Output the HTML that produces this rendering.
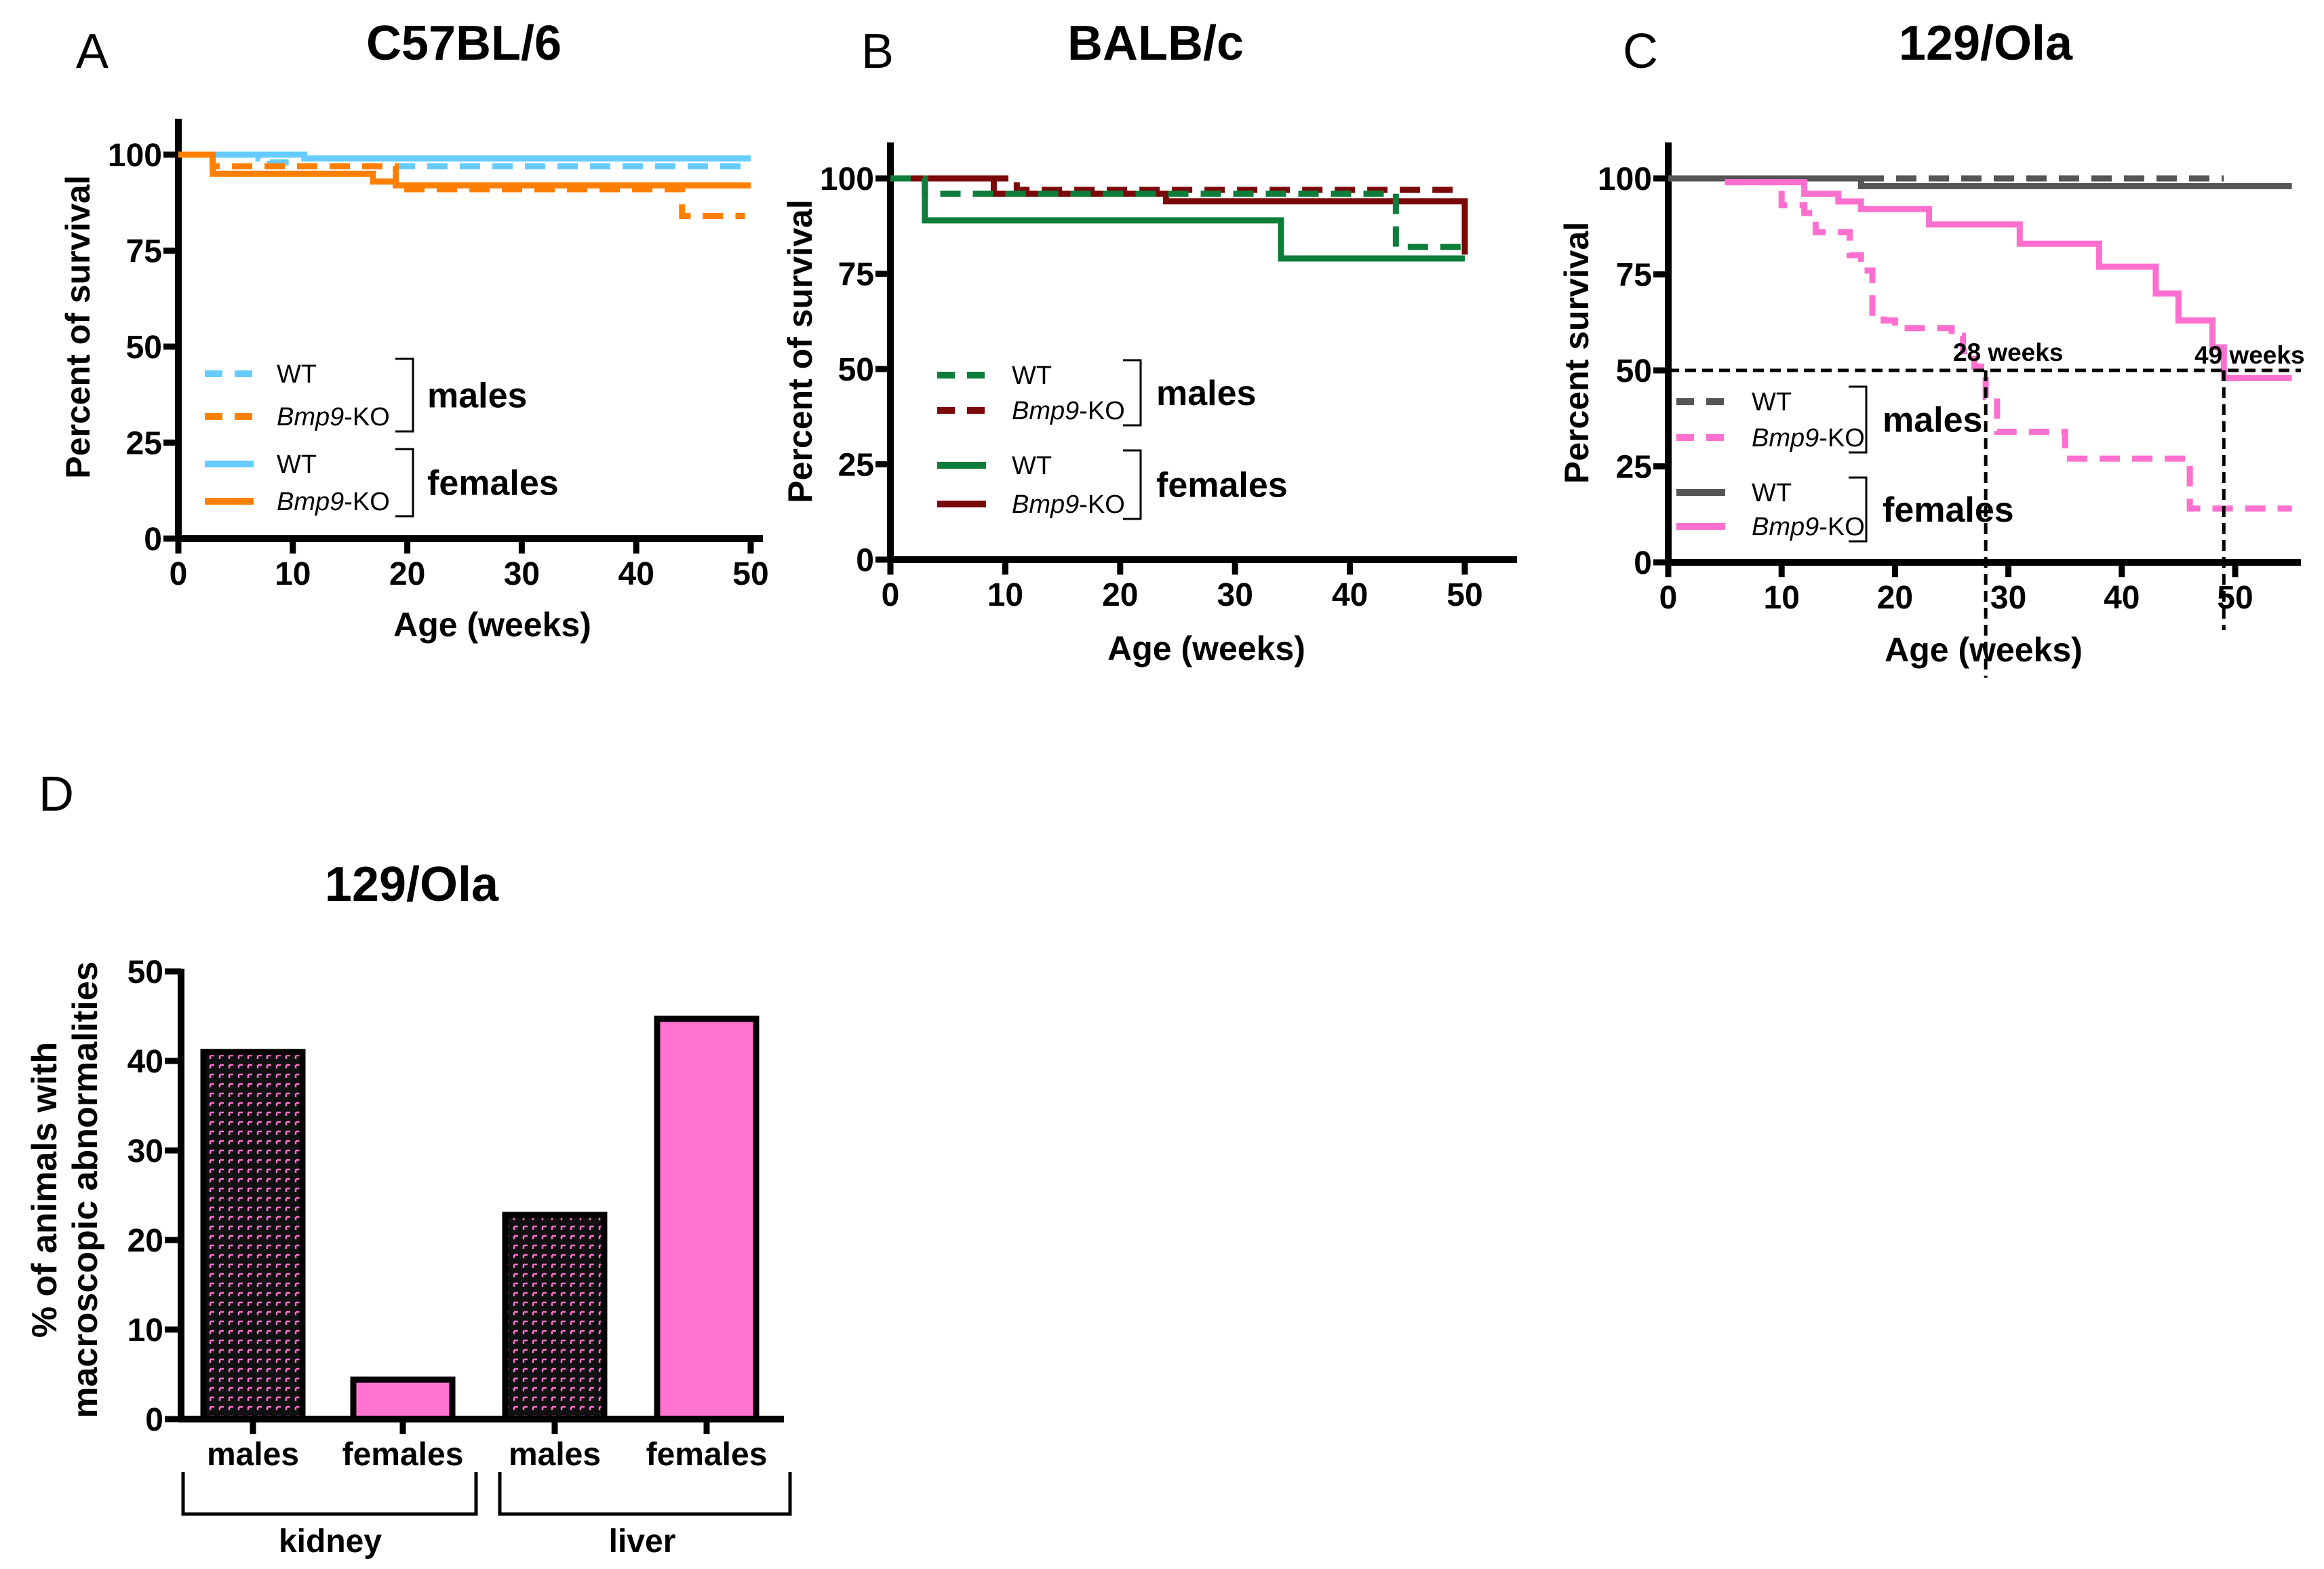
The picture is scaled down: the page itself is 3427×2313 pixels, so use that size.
<!DOCTYPE html>
<html><head><meta charset="utf-8">
<style>
html,body{margin:0;padding:0;background:#fff;}
svg{display:block;}
text{font-family:"Liberation Sans",sans-serif;}
</style></head>
<body>
<svg id="fig" width="3427" height="2313" viewBox="0 0 3427 2313" xmlns="http://www.w3.org/2000/svg">
<defs>
<pattern id="hatch" width="14" height="14" patternUnits="userSpaceOnUse">
<rect width="14" height="14" fill="#111"/>
<path d="M2 2 H8 M2 2 V7" stroke="#ff6fcf" stroke-width="2.5" fill="none"/>
</pattern>
</defs>
</svg>
<script>
// ---------- Panel A data (C57BL/6) ----------
const aWTmT=[0,7,8,10,50], aWTmS=[100,99,98,97,97];
const aWTfT=[0,11,50], aWTfS=[100,99,99];
const aKOmT=[0,3,19,44,49.5], aKOmS=[100,97,91,84,84];
const aKOfT=[0,3,17,19,50], aKOfS=[100,95,93,92,92];
// ---------- Panel B data (BALB/c) ----------
const bWTmT=[0,3,44,50], bWTmS=[100,96,82,82];
const bKOmT=[0,11,50], bKOmS=[100,97,97];
const bWTfT=[0,3,34,50], bWTfS=[100,89,79,79];
const bKOfT=[0,9,24,50,50], bKOfS=[100,96,94,94,80];
// ---------- Panel C data (129/Ola) ----------
const cWTmT=[0,49], cWTmS=[100,100];
const cWTfT=[0,17,55], cWTfS=[100,98,98];
const cKOmT=[5,10,12,13,16,17,18,19,20,25,26,27,28,29,35,46,55];
const cKOmS=[99,93,91,86,80,76,65,63,61,59,55,51,43,34,27,14,14];
const cKOfT=[5,12,15,17,23,31,38,43,45,48,49,55];
const cKOfS=[99,96,94,92,88,83,77,70,63,56,48,48];
const medianWeeks=[28,49];
// ---------- Panel D data ----------
const dCats=["males","females","males","females"];
const dVals=[41,4.4,22.8,44.7];
const dTicks=[0,10,20,30,40,50];
const survTicksY=[0,25,50,75,100];
const xTicksAB=[0,10,20,30,40,50];

const svg=document.getElementById('fig');
const NS="http://www.w3.org/2000/svg";
function el(tag,attrs,parent){const e=document.createElementNS(NS,tag);for(const k in attrs)e.setAttribute(k,attrs[k]);(parent||svg).appendChild(e);return e;}
function txt(s,attrs,parent){const t=el('text',attrs,parent);t.textContent=s;return t;}

function axes(p){
  const g=el('g',{});
  
  
  el('line',{x1:p.x0,y1:p.top,x2:p.x0,y2:p.y(0)+4,stroke:'#000','stroke-width':10},g);
  el('line',{x1:p.x0-4,y1:p.y(0),x2:p.xend,y2:p.y(0),stroke:'#000','stroke-width':10},g);
  p.yt.forEach(v=>{el('line',{x1:p.x0-22,y1:p.y(v),x2:p.x0,y2:p.y(v),stroke:'#000','stroke-width':9},g);
    const t=txt(String(v),{x:p.x0-24,y:p.y(v)+17,'font-size':48,'font-weight':'bold','text-anchor':'end'},g);
    });
  p.xt.forEach(v=>{el('line',{x1:p.x(v),y1:p.y(0),x2:p.x(v),y2:p.y(0)+22,stroke:'#000','stroke-width':9},g);
    const t=txt(String(v),{x:p.x(v),y:p.y(0)+68,'font-size':48,'font-weight':'bold','text-anchor':'middle'},g);
    });
  const yl=txt(p.ylab,{x:0,y:0,'font-size':p.yfs||50,'font-weight':'bold','text-anchor':'middle',transform:`translate(${p.ylx},${p.yly}) rotate(-90)`},g);
  
  const xl=txt('Age (weeks)',{x:p.xlx,y:p.xly,'font-size':50,'font-weight':'bold','text-anchor':'middle'},g);
  
}
function step(p,T,S,color,dashed,name){
  let d=`M${p.x(T[0])},${p.y(S[0])}`;
  for(let i=1;i<T.length;i++){d+=` H${p.x(T[i])} V${p.y(S[i])}`;}
  const path=el('path',{d:d,fill:'none',stroke:color,'stroke-width':9,'stroke-dasharray':dashed?'30 18':'none'});
  
  
}
function legend(p,items,ys,lx,tx,bx,gx){
  const g=el('g',{});
  
  
  items.forEach((it,i)=>{
    el('line',{x1:lx,y1:ys[i],x2:lx+72,y2:ys[i],stroke:it.c,'stroke-width':10,'stroke-dasharray':it.d?'26 18':'none'},g);
    if(i%2==0) txt('WT',{x:tx,y:ys[i]+13,'font-size':38},g);
    else{const t=el('text',{x:tx,y:ys[i]+13,'font-size':38},g);
      const a=el('tspan',{'font-style':'italic'},t);a.textContent='Bmp9';
      const b=el('tspan',{},t);b.textContent='-KO';}
  });
  [[0,1,'males'],[2,3,'females']].forEach(([a,b,lab])=>{
    const y1=ys[a]-22,y2=ys[b]+22;
    el('path',{d:`M${bx},${y1} H${bx+26} V${y2} H${bx}`,fill:'none',stroke:'#000','stroke-width':3},g);
    txt(lab,{x:gx,y:(y1+y2)/2+18,'font-size':52,'font-weight':'bold'},g);
  });
}
function mk(name,x0,x50,y0,y100,top,xend){
  return {name,x0,top,xend,x:v=>x0+(x50-x0)*v/50,y:v=>y0-(y0-y100)*v/100,yt:survTicksY,xt:xTicksAB};
}
function heading(letter,lx,ly,title,tx,ty,name){
  const a=txt(letter,{x:lx,y:ly,'font-size':72,'text-anchor':'middle'});
  
  const t=txt(title,{x:tx,y:ty,'font-size':72,'font-weight':'bold','text-anchor':'middle'});
  
}

// Panel A
const A=mk('panel-a',263,1107,794,228,175,1125);
A.ylab='Percent of survival';A.ylx=132;A.yly=482;A.xlx=726;A.xly=938;
heading('A',136,100,'C57BL/6',684,88,'panel-a');
axes(A);
step(A,aWTfT,aWTfS,'#66ccff',false,'wt-females-line');
step(A,aWTmT,aWTmS,'#66ccff',true,'wt-males-line');
step(A,aKOfT,aKOfS,'#ff8000',false,'ko-females-line');
step(A,aKOmT,aKOmS,'#ff8000',true,'ko-males-line');
legend(A,[{c:'#66ccff',d:1},{c:'#ff8000',d:1},{c:'#66ccff',d:0},{c:'#ff8000',d:0}],[551,614,684,739],302,408,583,630);

// Panel B
const B=mk('panel-b',1313,2160,825,263,210,2237);
B.ylab='Percent of survival';B.ylx=1197;B.yly=518;B.xlx=1779;B.xly=973;
heading('B',1294,100,'BALB/c',1704,88,'panel-b');
axes(B);
step(B,bWTfT,bWTfS,'#0d7d3a',false,'wt-females-line');
step(B,bKOfT,bKOfS,'#7a0a0a',false,'ko-females-line');
step(B,bKOmT,bKOmS,'#7a0a0a',true,'ko-males-line');
step(B,bWTmT,bWTmS,'#0d7d3a',true,'wt-males-line');
legend(B,[{c:'#0d7d3a',d:1},{c:'#7a0a0a',d:1},{c:'#0d7d3a',d:0},{c:'#7a0a0a',d:0}],[553,605,686,743],1382,1492,1656,1705);

// Panel C
const C=mk('panel-c',2460,3296,829,263,210,3393);
C.ylab='Percent survival';C.ylx=2342;C.yly=520;C.xlx=2925;C.xly=975;
heading('C',2419,100,'129/Ola',2928,88,'panel-c');
axes(C);
step(C,cWTfT,cWTfS,'#555555',false,'wt-females-line');
step(C,cWTmT,cWTmS,'#555555',true,'wt-males-line');
step(C,cKOfT,cKOfS,'#ff6fcf',false,'ko-females-line');
step(C,cKOmT,cKOmS,'#ff6fcf',true,'ko-males-line');
{
  const g=el('g',{});
  
  
  el('line',{x1:C.x0,y1:C.y(50),x2:C.xend,y2:C.y(50),stroke:'#000','stroke-width':5,'stroke-dasharray':'16 9'},g);
  el('line',{x1:C.x(medianWeeks[0]),y1:C.y(50),x2:C.x(medianWeeks[0]),y2:C.y(0)+170,stroke:'#000','stroke-width':5,'stroke-dasharray':'16 9'},g);
  el('line',{x1:C.x(medianWeeks[1]),y1:C.y(50),x2:C.x(medianWeeks[1]),y2:C.y(0)+100,stroke:'#000','stroke-width':5,'stroke-dasharray':'16 9'},g);
  txt(medianWeeks[0]+' weeks',{x:C.x(medianWeeks[0])+33,y:C.y(50)-14,'font-size':37,'font-weight':'bold','text-anchor':'middle'},g);
  txt(medianWeeks[1]+' weeks',{x:C.x(medianWeeks[1])+38,y:C.y(50)-10,'font-size':37,'font-weight':'bold','text-anchor':'middle'},g);
}
legend(C,[{c:'#555555',d:1},{c:'#ff6fcf',d:1},{c:'#555555',d:0},{c:'#ff6fcf',d:0}],[592,645,726,776],2472,2583,2726,2776);

// Panel D
heading('D',83,1195,'129/Ola',607,1328,'panel-d');
const D={x0:267,y0:2092,y50:1432,xend:1156};
const dy=v=>D.y0-(D.y0-D.y50)*v/50;
const centers=[373,594,818,1042];
dCats.forEach((c,i)=>{
  const r=el('rect',{x:centers[i]-73,y:dy(dVals[i]),width:146,height:dy(0)-dy(dVals[i]),fill:(i%2==0)?'url(#hatch)':'#ff74d0',stroke:'#000','stroke-width':9});
  
  
});
{
  const g=el('g',{});
  
  
  el('line',{x1:D.x0,y1:D.y50-4,x2:D.x0,y2:D.y0+4,stroke:'#000','stroke-width':10},g);
  el('line',{x1:D.x0-4,y1:D.y0,x2:D.xend,y2:D.y0,stroke:'#000','stroke-width':10},g);
  dTicks.forEach(v=>{el('line',{x1:D.x0-24,y1:dy(v),x2:D.x0,y2:dy(v),stroke:'#000','stroke-width':9},g);
    txt(String(v),{x:D.x0-26,y:dy(v)+17,'font-size':48,'font-weight':'bold','text-anchor':'end'},g);});
  dCats.forEach((c,i)=>{el('line',{x1:centers[i],y1:D.y0,x2:centers[i],y2:D.y0+22,stroke:'#000','stroke-width':9},g);
    txt(c,{x:centers[i],y:2160,'font-size':48,'font-weight':'bold','text-anchor':'middle'},g);});
  el('path',{d:'M270,2170 V2232 H702 V2170',fill:'none',stroke:'#000','stroke-width':5},g);
  el('path',{d:'M737,2170 V2232 H1165 V2170',fill:'none',stroke:'#000','stroke-width':5},g);
  txt('kidney',{x:487,y:2288,'font-size':48,'font-weight':'bold','text-anchor':'middle'},g);
  txt('liver',{x:947,y:2288,'font-size':48,'font-weight':'bold','text-anchor':'middle'},g);
  const t=el('text',{x:0,y:0,'font-size':52,'font-weight':'bold','text-anchor':'middle',transform:'translate(83,1754) rotate(-90)'},g);
  
  const s1=el('tspan',{x:0,dy:0},t);s1.textContent='% of animals with';
  const s2=el('tspan',{x:0,dy:60},t);s2.textContent='macroscopic abnormalities';
}
</script>
</body></html>
